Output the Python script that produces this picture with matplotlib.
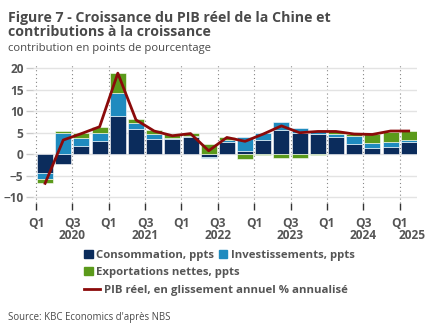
import numpy as np
import matplotlib
matplotlib.use('Agg')
import matplotlib.pyplot as plt
from matplotlib.patches import Patch
from matplotlib.lines import Line2D

plt.rcParams['font.family'] = ['Open Sans', 'DejaVu Sans']

# quarterly contributions, Q1 2020 .. Q1 2025
quarters = ['Q1', 'Q2', 'Q3', 'Q4'] * 5 + ['Q1']
consommation = [-4.3, -2.3, 1.8, 3.0, 9.0, 5.8, 3.6, 3.5, 3.9, -0.7, 2.8,
                0.7, 3.2, 5.6, 5.0, 4.7, 3.9, 2.3, 1.4, 1.7, 2.9]
investissements = [-1.4, 5.0, 1.9, 1.9, 5.2, 1.4, 1.1, 0.3, 0.3, -0.2, 0.5,
                   3.4, 1.7, 1.8, 1.0, 0.6, 0.7, 1.9, 1.2, 1.2, 0.4]
exportations = [-1.0, 0.5, 1.3, 1.5, 4.7, 1.0, 1.0, 0.9, 0.8, 2.3, 0.6,
                -1.2, -0.2, -0.9, -0.9, -0.1, 0.8, 0.6, 2.1, 2.3, 2.1]
pib = [-6.8, 3.3, 4.8, 6.4, 18.9, 8.0, 5.4, 4.3, 4.8, 0.8, 3.9,
       3.0, 4.7, 6.6, 5.0, 5.3, 5.3, 4.7, 4.6, 5.4, 5.4]
years = ['2020', '2021', '2022', '2023', '2024', '2025']
year_pos = [1.5, 5.5, 9.5, 13.5, 17.5, 20.2]

c_cons = '#0b2c5c'
c_inv = '#1f8bbf'
c_exp = '#5b9a1b'
c_line = '#8b0a0a'
grey = '#555555'

fig = plt.figure(figsize=(4.32, 3.34), dpi=100)
ax = fig.add_axes([0.077, 0.392, 0.888, 0.416])

x = np.arange(len(quarters))
pos_base = np.zeros(len(x))
neg_base = np.zeros(len(x))
for vals, col in [(consommation, c_cons), (investissements, c_inv), (exportations, c_exp)]:
    v = np.array(vals)
    base = np.where(v >= 0, pos_base, neg_base)
    ax.bar(x, v, bottom=base, width=0.88, color=col, edgecolor='white', linewidth=0.4, zorder=3)
    pos_base += np.where(v >= 0, v, 0)
    neg_base += np.where(v < 0, v, 0)

ax.plot(x, pib, color=c_line, lw=2, zorder=4)

ax.set_xlim(-0.65, 20.45)
ax.set_ylim(-11.4, 21)
ax.set_yticks(range(-10, 21, 5))
ax.grid(axis='y', color='#e3e3e3', lw=1, zorder=0)

bounds = np.arange(-0.5, 20, 2)
ax.set_xticks(bounds)
ax.set_xticklabels(['Q1' if i % 2 == 0 else 'Q3' for i in range(len(bounds))])
for b in bounds:
    ax.axvline(b, color='#888888', ls=(0, (1, 2.5)), lw=0.8, zorder=1)
for yr, p in zip(years, year_pos):
    ax.text(p, -0.235, yr, transform=ax.get_xaxis_transform(), ha='center', va='center',
            fontsize=8.6, fontweight='bold', color=grey)

for s in ax.spines.values():
    s.set_visible(False)
ax.tick_params(axis='x', length=5, width=1, color='#333333', pad=5,
               labelsize=8.6, labelcolor=grey)
ax.tick_params(axis='y', length=5, width=1, color='#cccccc', pad=2,
               labelsize=8.6, labelcolor=grey)
for lbl in ax.get_xticklabels() + ax.get_yticklabels():
    lbl.set_fontweight('bold')

fig.text(0.018, 0.968, 'Figure 7 - Croissance du PIB réel de la Chine et\ncontributions à la croissance',
         ha='left', va='top', fontsize=10.2, fontweight='bold', color='#4a4a4a', linespacing=1.05)
fig.text(0.018, 0.855, 'contribution en points de pourcentage', ha='left', va='center',
         fontsize=8.1, color='#4a4a4a')

leg_kw = dict(frameon=False, handlelength=0.75, handleheight=0.75, handletextpad=0.3,
              borderpad=0, borderaxespad=0, columnspacing=0.4,
              prop={'size': 8.2, 'weight': 'bold'}, labelcolor=grey)
l1 = fig.legend([Patch(color=c_cons), Patch(color=c_inv)],
                ['Consommation, ppts', 'Investissements, ppts'],
                loc='center left', bbox_to_anchor=(0.195, 0.236), ncol=2, **leg_kw)
l2 = fig.legend([Patch(color=c_exp)], ['Exportations nettes, ppts'],
                loc='center left', bbox_to_anchor=(0.195, 0.185), **leg_kw)
leg_kw['handlelength'] = 1.4
l3 = fig.legend([Line2D([], [], color=c_line, lw=2)], ['PIB réel, en glissement annuel % annualisé'],
                loc='center left', bbox_to_anchor=(0.195, 0.131), **leg_kw)

fig.text(0.018, 0.05, "Source: KBC Economics d'après NBS", ha='left', va='center',
         fontsize=6.9, color='#4a4a4a')

fig.savefig('out.png', dpi=100)
